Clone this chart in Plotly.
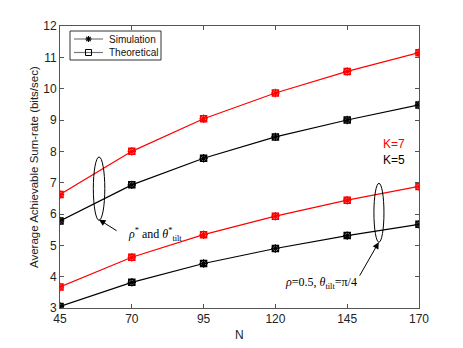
import plotly.graph_objects as go

# Data
n_values = [45, 70, 95, 120, 145, 170]

# optimal rho / tilt
k7_opt = [6.62, 8.00, 9.04, 9.86, 10.55, 11.15]
k5_opt = [5.78, 6.93, 7.78, 8.46, 9.00, 9.48]
# rho=0.5, tilt=pi/4
k7_fix = [3.67, 4.62, 5.34, 5.93, 6.44, 6.88]
k5_fix = [3.05, 3.82, 4.42, 4.90, 5.31, 5.67]

curves = [(k7_opt, "red"), (k5_opt, "black"), (k7_fix, "red"), (k5_fix, "black")]
legend_names = ["Simulation", "Theoretical"]

# plot area in pixels (width 463, height 348)
L, R, T, B = 60, 44, 26, 40
PW, PH = 463 - L - R, 348 - T - B


def px(x):
    return (x - L) / PW


def py(y):
    return (348 - B - y) / PH


fig = go.Figure()

# theoretical (square) and simulation (asterisk) overlap on each curve
for vals, col in curves:
    fig.add_trace(go.Scatter(x=n_values, y=vals, mode="lines+markers",
                             line=dict(color=col, width=1.2),
                             marker=dict(symbol="square-open", size=6, color=col, line=dict(width=1.5, color=col)),
                             name="Theoretical", showlegend=False))
    fig.add_trace(go.Scatter(x=n_values, y=vals, mode="markers",
                             marker=dict(symbol="asterisk-open", size=7, color=col, line=dict(width=1.2, color=col)),
                             name="Simulation", showlegend=False))

# hand-drawn legend box (matlab style, compact rows)
fig.add_shape(type="rect", xref="paper", yref="paper", x0=px(70), x1=px(161), y0=py(60), y1=py(31),
              line=dict(color="#333", width=1), fillcolor="white", layer="above")
for i, name in enumerate(legend_names):
    yc = 39 + 13.5 * i
    fig.add_shape(type="line", xref="paper", yref="paper", x0=px(74), x1=px(103), y0=py(yc), y1=py(yc),
                  line=dict(color="#777", width=1.2), layer="above")
    if name == "Simulation":
        for dx, dy in [(3, 0), (0, 3), (2.2, 2.2), (2.2, -2.2)]:
            fig.add_shape(type="line", xref="paper", yref="paper",
                          x0=px(88.5 - dx), x1=px(88.5 + dx), y0=py(yc - dy), y1=py(yc + dy),
                          line=dict(color="black", width=1.2), layer="above")
    else:
        fig.add_shape(type="rect", xref="paper", yref="paper", x0=px(85.5), x1=px(91.5),
                      y0=py(yc + 3), y1=py(yc - 3), line=dict(color="black", width=1), layer="above")
    fig.add_annotation(x=px(107), y=py(yc), xref="paper", yref="paper", xanchor="left", yanchor="middle",
                       text=name, showarrow=False,
                       font=dict(family="Liberation Sans, Arial, sans-serif", size=10, color="#111"))

# ellipses
fig.add_shape(type="circle", x0=56.6, x1=60.6, y0=5.8, y1=7.82, line=dict(color="black", width=1))
fig.add_shape(type="circle", x0=154.3, x1=157.8, y0=5.1, y1=6.98, line=dict(color="black", width=1))

# arrows and labels
fig.add_annotation(x=58.6, y=5.82, ax=19, ay=12, xref="x", yref="y", text="", showarrow=True,
                   arrowhead=2, arrowsize=1.3, arrowwidth=1, arrowcolor="black")
fig.add_annotation(x=68, y=5.35, xref="x", yref="y", xanchor="left", yanchor="middle",
                   text="<i>ρ</i><sup>*</sup> and <i>θ</i><sup>*</sup><sub>tilt</sub>", showarrow=False,
                   font=dict(family="Liberation Serif, Times New Roman, serif", size=12, color="black"))

fig.add_annotation(x=156, y=5.1, ax=-20, ay=35, xref="x", yref="y", text="", showarrow=True,
                   arrowhead=2, arrowsize=1.3, arrowwidth=1, arrowcolor="black")
fig.add_annotation(x=149, y=3.8, xref="x", yref="y", xanchor="right", yanchor="middle",
                   text="<i>ρ</i>=0.5, <i>θ</i><sub>tilt</sub>=π/4", showarrow=False,
                   font=dict(family="Liberation Serif, Times New Roman, serif", size=12, color="black"))

fig.add_annotation(x=156.8, y=8.22, xref="x", yref="y", xanchor="left", text="K=7", showarrow=False,
                   font=dict(family="Liberation Sans, Arial, sans-serif", size=12, color="red"))
fig.add_annotation(x=156.8, y=7.71, xref="x", yref="y", xanchor="left", text="K=5", showarrow=False,
                   font=dict(family="Liberation Sans, Arial, sans-serif", size=12, color="black"))

# axis titles
fig.add_annotation(x=px(34), y=0.5, xref="paper", yref="paper", textangle=-90, showarrow=False,
                   xanchor="center", yanchor="middle",
                   text="Average Achievable Sum-rate (bits/sec)",
                   font=dict(family="Liberation Sans, Arial, sans-serif", size=11.5, color="#222"))
fig.add_annotation(x=px(239), y=py(335), xref="paper", yref="paper", showarrow=False, text="N",
                   xanchor="center", yanchor="middle",
                   font=dict(family="Liberation Sans, Arial, sans-serif", size=12, color="#222"))

axis_style = dict(showline=True, linecolor="#555", linewidth=1, mirror="ticks",
                  ticks="inside", ticklen=4, tickcolor="#555", showgrid=False, zeroline=False,
                  tickfont=dict(size=12, color="#222"))

fig.update_layout(
    width=463, height=348,
    margin=dict(l=L, r=R, t=T, b=B),
    plot_bgcolor="white", paper_bgcolor="white",
    font=dict(family="Liberation Sans, Arial, sans-serif", size=12, color="#222"),
    xaxis=dict(range=[45, 170], tickvals=n_values, **axis_style),
    yaxis=dict(range=[3, 12], dtick=1, **axis_style),
    showlegend=False,
)

# drop the default page margin so the figure sits at the window origin
fig.write_html("out.html", config={"displayModeBar": False},
               post_script="document.body.style.margin='0';")
